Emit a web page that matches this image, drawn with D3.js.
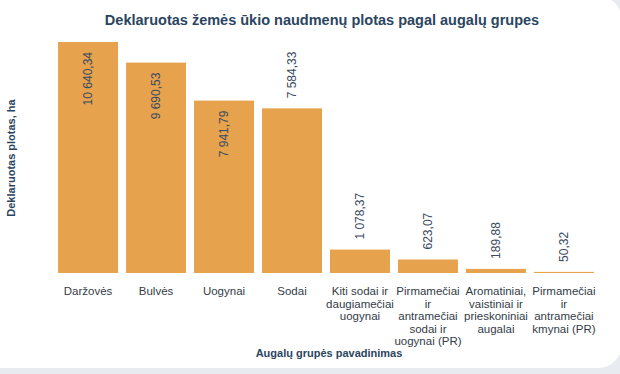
<!DOCTYPE html>
<html>
<head>
<meta charset="utf-8">
<script src="https://cdn.jsdelivr.net/npm/d3@7"></script>
<style>
  body { margin: 0; background: #e8ecf1; }
  svg { display: block; font-family: "Liberation Sans", Arial, sans-serif; }
</style>
</head>
<body>
<script>
let categories = ["Daržovės", "Bulvės", "Uogynai", "Sodai", "Kiti sodai ir daugiamečiai uogynai",
  "Pirmamečiai ir antramečiai sodai ir uogynai (PR)", "Aromatiniai, vaistiniai ir prieskoniniai augalai",
  "Pirmamečiai ir antramečiai kmynai (PR)"];
let values = [10640.34, 9690.53, 7941.79, 7584.33, 1078.37, 623.07, 189.88, 50.32];
let valueLabels = ["10 640,34", "9 690,53", "7 941,79", "7 584,33", "1 078,37", "623,07", "189,88", "50,32"];
let tickLines = [["Daržovės"], ["Bulvės"], ["Uogynai"], ["Sodai"],
  ["Kiti sodai ir", "daugiamečiai", "uogynai"],
  ["Pirmamečiai", "ir", "antramečiai", "sodai ir", "uogynai (PR)"],
  ["Aromatiniai,", "vaistiniai ir", "prieskoniniai", "augalai"],
  ["Pirmamečiai", "ir", "antramečiai", "kmynai (PR)"]];
let insideLabel = [true, true, true, false, false, false, false, false];

let w = 620, h = 374;
let margin = {left: 54, right: 22, top: 42, bottom: 101};

let svg = d3.select("body").append("svg").attr("width", w).attr("height", h);

// white card
svg.append("rect").attr("x", -20).attr("y", -4).attr("width", 642).attr("height", 372)
  .attr("rx", 24).attr("fill", "#fff");

let x = d3.scaleBand().domain(categories).range([margin.left, w - margin.right]).paddingInner(0.118).paddingOuter(0.06);
let y = d3.scaleLinear().domain([0, d3.max(values)]).range([h - margin.bottom, margin.top]);

let chartGroup = svg.append("g");

chartGroup.selectAll("rect.bar")
  .data(values)
  .enter().append("rect")
  .attr("class", "bar")
  .attr("x", (d, i) => x(categories[i]))
  .attr("y", d => y(d))
  .attr("width", x.bandwidth())
  .attr("height", d => y(0) - y(d))
  .attr("fill", "#e6a24d");

// value labels, rotated
chartGroup.selectAll("text.val")
  .data(values)
  .enter().append("text")
  .attr("class", "val")
  .attr("transform", (d, i) => {
    let cx = x(categories[i]) + x.bandwidth() / 2 + 4;
    let cy = insideLabel[i] ? y(d) + 10 : y(d) - 10;
    return "translate(" + cx + "," + cy + ") rotate(-90)";
  })
  .attr("text-anchor", (d, i) => insideLabel[i] ? "end" : "start")
  .attr("font-size", "12px")
  .attr("fill", "#3a4b60")
  .text((d, i) => valueLabels[i]);

// x tick labels
let xAxis = d3.axisBottom(x).tickSize(0).tickFormat("");
chartGroup.append("g").attr("transform", "translate(0," + y(0) + ")").call(xAxis)
  .call(g => g.select(".domain").remove());

chartGroup.selectAll("text.tick")
  .data(tickLines)
  .enter().append("text")
  .attr("class", "tick")
  .attr("x", (d, i) => x(categories[i]) + x.bandwidth() / 2)
  .attr("y", y(0) + 22)
  .attr("text-anchor", "middle")
  .attr("font-size", "11.5px")
  .attr("fill", "#333c48")
  .selectAll("tspan")
  .data(d => d)
  .enter().append("tspan")
  .attr("x", function() { return this.parentNode.getAttribute("x"); })
  .attr("dy", (d, i) => i === 0 ? 0 : 12.5)
  .text(d => d);

svg.append("text")
  .attr("x", 322).attr("y", 25)
  .attr("text-anchor", "middle")
  .attr("font-size", "14.5px").attr("font-weight", "bold")
  .attr("fill", "#2b4560")
  .text("Deklaruotas žemės ūkio naudmenų plotas pagal augalų grupes");

svg.append("text")
  .attr("x", 329).attr("y", 357)
  .attr("text-anchor", "middle")
  .attr("font-size", "11px").attr("font-weight", "bold")
  .attr("fill", "#2b4560")
  .text("Augalų grupės pavadinimas");

svg.append("text")
  .attr("transform", "translate(15,158) rotate(-90)")
  .attr("text-anchor", "middle")
  .attr("font-size", "11px").attr("font-weight", "bold")
  .attr("fill", "#2b4560")
  .text("Deklaruotas plotas, ha");
</script>
</body>
</html>
